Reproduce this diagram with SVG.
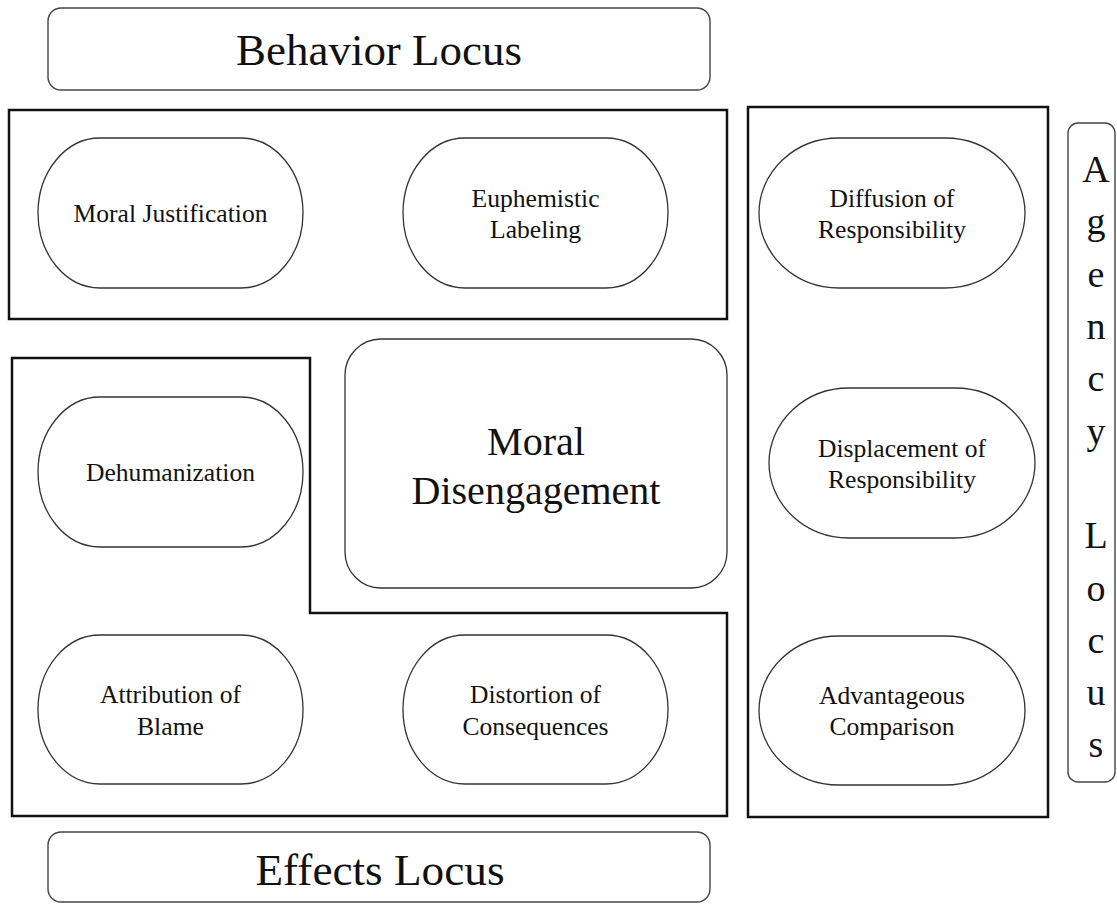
<svg xmlns="http://www.w3.org/2000/svg" width="1117" height="904" viewBox="0 0 1117 904">
<style>
.bg{fill:#ffffff}
.frame{fill:none;stroke:#111;stroke-width:2.5}
.locus{fill:#fff;stroke:#444;stroke-width:1.4}
.pill{fill:#fff;stroke:#333;stroke-width:1.3}
.core{fill:#fff;stroke:#333;stroke-width:1.3}
text{fill:#111;text-anchor:middle;font-family:"Liberation Serif","Times New Roman","Tinos","Nimbus Roman","FreeSerif","DejaVu Serif","Noto Serif",serif}
.big{font-size:45px}
.mid{font-size:40px}
.lbl{font-size:25.5px}
.v{font-size:38px}
</style>
<rect class="bg" x="0" y="0" width="1117" height="904"/>
<g id="connectors"></g>
<g id="behavior-locus">
<rect class="locus" x="48" y="8" width="662" height="82" rx="13"/>
<text class="big" x="379" y="65" textLength="286" lengthAdjust="spacingAndGlyphs">Behavior Locus</text>
</g>
<g id="behavior-group">
<rect class="frame" x="9" y="110" width="718" height="209"/>
</g>
<g id="effects-group">
<path class="frame" d="M12 358 H310 V613 H727 V816 H12 Z"/>
</g>
<g id="agency-group">
<rect class="frame" x="748" y="107" width="300" height="710"/>
</g>
<g id="moral-justification">
<rect class="pill" x="38" y="138" width="265" height="150" rx="62" ry="75"/>
<text class="lbl" x="170.5" y="222" textLength="194" lengthAdjust="spacingAndGlyphs">Moral Justification</text>
</g>
<g id="euphemistic-labeling">
<rect class="pill" x="403" y="138" width="265" height="150" rx="62" ry="75"/>
<text class="lbl" x="535.5" y="207" textLength="128" lengthAdjust="spacingAndGlyphs">Euphemistic</text>
<text class="lbl" x="535.5" y="238" textLength="91" lengthAdjust="spacingAndGlyphs">Labeling</text>
</g>
<g id="moral-disengagement">
<rect class="core" x="345" y="339" width="382" height="249" rx="36"/>
<text class="mid" x="536" y="455" textLength="98" lengthAdjust="spacingAndGlyphs">Moral</text>
<text class="mid" x="536" y="504" textLength="249" lengthAdjust="spacingAndGlyphs">Disengagement</text>
</g>
<g id="dehumanization">
<rect class="pill" x="38" y="397" width="265" height="150" rx="62" ry="75"/>
<text class="lbl" x="170.5" y="481" textLength="169" lengthAdjust="spacingAndGlyphs">Dehumanization</text>
</g>
<g id="attribution-of-blame">
<rect class="pill" x="38" y="635" width="265" height="149" rx="62" ry="74.5"/>
<text class="lbl" x="170.5" y="703" textLength="141" lengthAdjust="spacingAndGlyphs">Attribution of</text>
<text class="lbl" x="170.5" y="735" textLength="67" lengthAdjust="spacingAndGlyphs">Blame</text>
</g>
<g id="distortion-of-consequences">
<rect class="pill" x="403" y="635" width="265" height="149" rx="62" ry="74.5"/>
<text class="lbl" x="535.5" y="703" textLength="131" lengthAdjust="spacingAndGlyphs">Distortion of</text>
<text class="lbl" x="535.5" y="735" textLength="146" lengthAdjust="spacingAndGlyphs">Consequences</text>
</g>
<g id="diffusion-of-responsibility">
<rect class="pill" x="759" y="138" width="266" height="150" rx="80" ry="75"/>
<text class="lbl" x="892" y="207" textLength="125" lengthAdjust="spacingAndGlyphs">Diffusion of</text>
<text class="lbl" x="892" y="238" textLength="148" lengthAdjust="spacingAndGlyphs">Responsibility</text>
</g>
<g id="displacement-of-responsibility">
<rect class="pill" x="769" y="388" width="266" height="150" rx="80" ry="75"/>
<text class="lbl" x="902" y="457" textLength="168" lengthAdjust="spacingAndGlyphs">Displacement of</text>
<text class="lbl" x="902" y="488" textLength="148" lengthAdjust="spacingAndGlyphs">Responsibility</text>
</g>
<g id="advantageous-comparison">
<rect class="pill" x="759" y="636" width="266" height="149" rx="80" ry="74.5"/>
<text class="lbl" x="892" y="704" textLength="146" lengthAdjust="spacingAndGlyphs">Advantageous</text>
<text class="lbl" x="892" y="735" textLength="125" lengthAdjust="spacingAndGlyphs">Comparison</text>
</g>
<g id="effects-locus">
<rect class="locus" x="48" y="832" width="662" height="70" rx="13"/>
<text class="big" x="380" y="885" textLength="249" lengthAdjust="spacingAndGlyphs">Effects Locus</text>
</g>
<g id="agency-locus">
<rect class="locus" x="1068" y="123" width="47" height="659" rx="10"/>
<text class="v" x="1096" y="182">A</text>
<text class="v" x="1096" y="234">g</text>
<text class="v" x="1096" y="287">e</text>
<text class="v" x="1096" y="339">n</text>
<text class="v" x="1096" y="391">c</text>
<text class="v" x="1096" y="444">y</text>
<text class="v" x="1096" y="548">L</text>
<text class="v" x="1096" y="601">o</text>
<text class="v" x="1096" y="653">c</text>
<text class="v" x="1096" y="705">u</text>
<text class="v" x="1096" y="757">s</text>
</g>
</svg>
